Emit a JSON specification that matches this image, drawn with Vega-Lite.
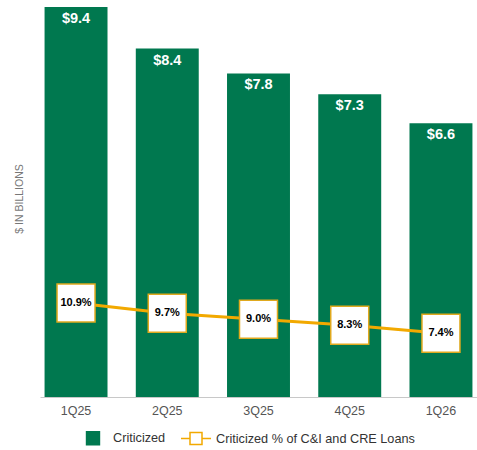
{
  "$schema": "https://vega.github.io/schema/vega-lite/v6.json",
  "width": 437,
  "height": 397,
  "autosize": {"type": "none"},
  "padding": {"left": 40, "top": 0, "right": 0, "bottom": 53},
  "background": "white",
  "config": {
    "view": {"stroke": null},
    "font": "Liberation Sans"
  },
  "data": {
    "values": [
      {"quarter": "1Q25", "criticized": 9.4, "pct": 0.109},
      {"quarter": "2Q25", "criticized": 8.4, "pct": 0.097},
      {"quarter": "3Q25", "criticized": 7.8, "pct": 0.090},
      {"quarter": "4Q25", "criticized": 7.3, "pct": 0.083},
      {"quarter": "1Q26", "criticized": 6.6, "pct": 0.074}
    ]
  },
  "encoding": {
    "x": {
      "field": "quarter",
      "type": "nominal",
      "sort": null,
      "scale": {"paddingInner": 0.31, "paddingOuter": 0.05},
      "axis": {
        "title": null,
        "labelAngle": 0,
        "ticks": false,
        "domainColor": "#c8c8c8",
        "labelColor": "#555555",
        "labelFontSize": 12.5,
        "labelPadding": 7
      }
    }
  },
  "layer": [
    {
      "layer": [
        {
          "mark": {"type": "bar", "color": "#00784F"},
          "encoding": {
            "y": {
              "field": "criticized",
              "type": "quantitative",
              "scale": {"domain": [0, 9.57], "nice": false},
              "axis": {
                "title": "$ IN BILLIONS",
                "labels": false,
                "ticks": false,
                "domain": false,
                "grid": false,
                "titleColor": "#777777",
                "titleFontSize": 10.5,
                "titleFontWeight": "normal",
                "titlePadding": 16
              }
            },
            "color": {
              "datum": "Criticized",
              "scale": {
                "domain": ["Criticized", "Criticized % of C&I and CRE Loans"],
                "range": ["#00784F", "#ffffff"]
              },
              "legend": {
                "title": null,
                "orient": "none",
                "legendX": 37,
                "legendY": 422,
                "direction": "horizontal",
                "padding": 0,
                "labelFontSize": 12.7,
                "labelColor": "#333333",
                "labelLimit": 400,
                "symbolSize": 900,
                "columnPadding": 12,
                "labelOffset": 4,
                "encode": {
                  "symbols": {
                    "update": {
                      "shape": {"signal": "datum.value === 'Criticized' ? 'M-0.43,-0.43H0.43V0.43H-0.43Z' : 'M-1,0H-0.4M0.4,0H1M-0.4,-0.4H0.4V0.4H-0.4Z'"},
                      "fill": {"signal": "datum.value === 'Criticized' ? '#00784F' : '#ffffff'"},
                      "stroke": {"signal": "datum.value === 'Criticized' ? '#00784F' : '#F2A900'"},
                      "strokeWidth": {"value": 1.5},
                      "opacity": {"value": 1},
                      "fillOpacity": {"value": 1}
                    }
                  }
                }
              }
            }
          }
        },
        {
          "mark": {"type": "text", "color": "white", "fontWeight": "bold", "fontSize": 14.5, "baseline": "top", "dy": 5},
          "encoding": {
            "y": {"field": "criticized", "type": "quantitative"},
            "text": {"field": "criticized", "type": "quantitative", "format": "$.1f"}
          }
        }
      ]
    },
    {
      "layer": [
        {
          "mark": {"type": "line", "color": "#F2A900", "strokeWidth": 3},
          "encoding": {
            "y": {"field": "pct", "type": "quantitative", "scale": {"domain": [0, 0.46], "nice": false}, "axis": null}
          }
        },
        {
          "mark": {"type": "point", "shape": "square", "size": 1444, "filled": true, "fill": "white", "stroke": "#E0A91E", "strokeWidth": 1.5, "opacity": 1},
          "encoding": {
            "y": {"field": "pct", "type": "quantitative"}
          }
        },
        {
          "mark": {"type": "text", "color": "black", "fontWeight": "bold", "fontSize": 11},
          "encoding": {
            "y": {"field": "pct", "type": "quantitative"},
            "text": {"field": "pct", "type": "quantitative", "format": ".1%"}
          }
        }
      ]
    }
  ],
  "resolve": {"scale": {"y": "independent"}}
}
